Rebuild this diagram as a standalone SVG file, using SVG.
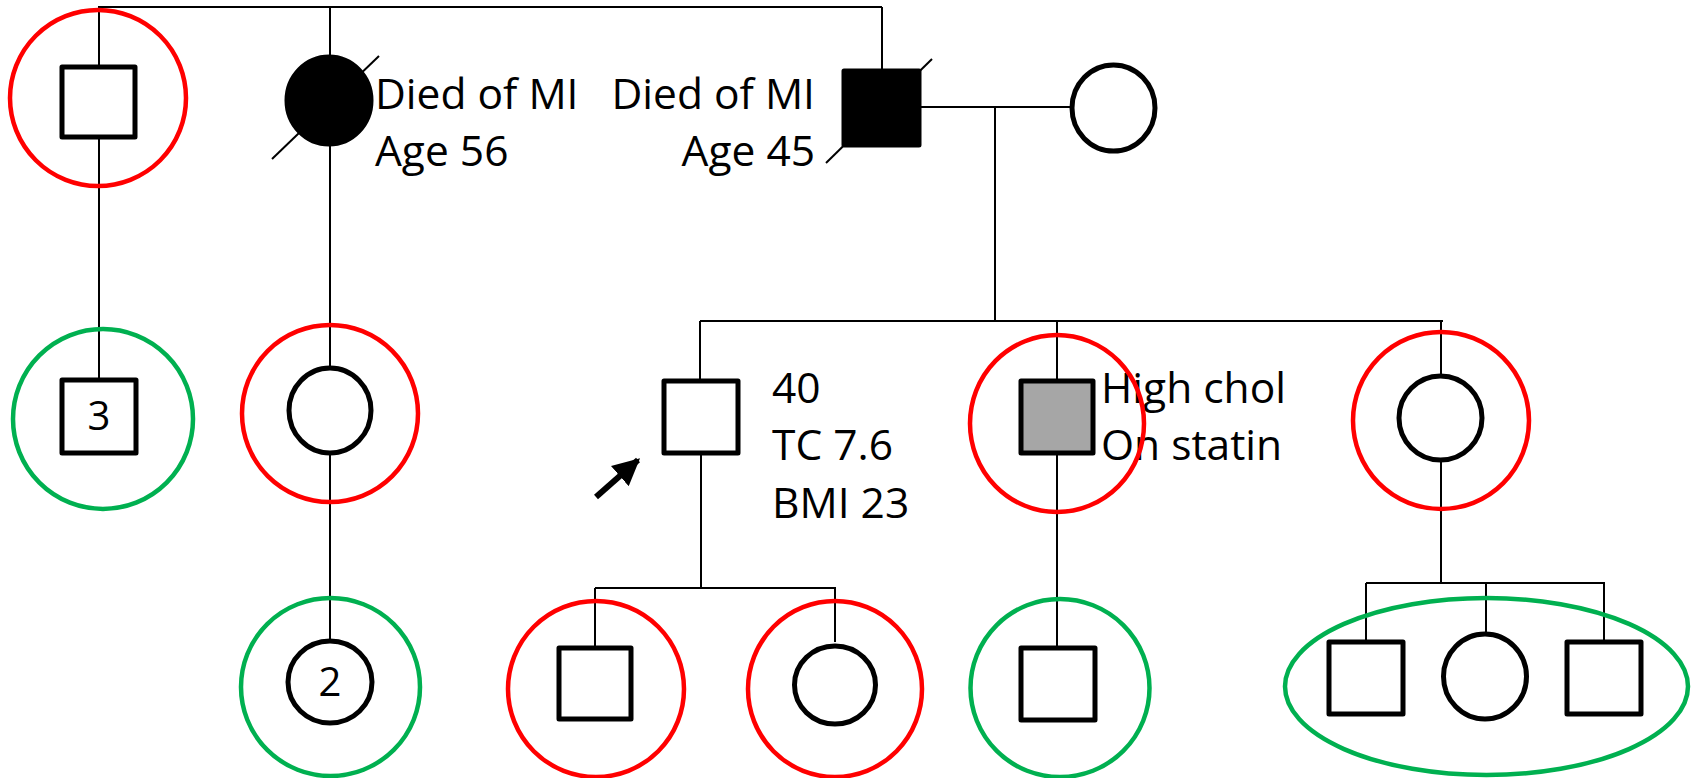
<svg xmlns="http://www.w3.org/2000/svg" width="1694" height="778" viewBox="0 0 1694 778">
  <style>
    .line { stroke: #000; stroke-width: 2; fill: none; }
    .person { stroke: #000; stroke-width: 5; fill: #fff; stroke-linejoin: round; }
    .affected { fill: #000; }
    .partial { fill: #a6a6a6; }
    .slash { stroke: #000; stroke-width: 2; }
    .risk { stroke: #ff0000; stroke-width: 4.5; fill: none; }
    .safe { stroke: #00b050; stroke-width: 4.5; fill: none; }
    .label { font-family: "Open Sans", "Noto Sans", sans-serif; font-size: 42.5px; fill: #000; }
    .num { font-family: "Open Sans", "Noto Sans", sans-serif; font-size: 40px; fill: #000; text-anchor: middle; }
  </style>
  <defs>
    <marker id="arrowhead" viewBox="0 0 10 10" refX="9" refY="5" markerWidth="4.5" markerHeight="4.5" orient="auto" markerUnits="strokeWidth">
      <path d="M0,0 L10,5 L0,10 z" fill="#000"/>
    </marker>
  </defs>

  <!-- lines of descent and partnership -->
  <g id="connectors">
    <path class="line" d="M98,7 H882"/>
    <path class="line" d="M99,7 V67 M99,138 V380"/>
    <path class="line" d="M330,7 V57 M330,144 V368 M330,453 V641"/>
    <path class="line" d="M882,7 V71"/>
    <path class="line" d="M919,107 H1072"/>
    <path class="line" d="M995,107 V321"/>
    <path class="line" d="M700,321 H1443"/>
    <path class="line" d="M700,321 V381 M1057,321 V381 M1441,321 V376"/>
    <path class="line" d="M701,453 V588"/>
    <path class="line" d="M595,588 H836"/>
    <path class="line" d="M595,588 V648 M835,588 V642"/>
    <path class="line" d="M1057,453 V648"/>
    <path class="line" d="M1441,460 V583"/>
    <path class="line" d="M1366,583 H1605"/>
    <path class="line" d="M1366,583 V642 M1486,583 V634 M1604,583 V642"/>
  </g>

  <!-- generation I -->
  <g id="uncle">
    <rect class="person" x="62" y="67" width="73" height="70"/>
  </g>
  <g id="aunt-deceased">
    <path class="slash" d="M272,159 L379,56"/>
    <ellipse class="person affected" cx="329" cy="100.5" rx="42" ry="43.5"/>
    <text class="label" x="375" y="109">Died of MI</text>
    <text class="label" x="375" y="166">Age 56</text>
  </g>
  <g id="father-deceased">
    <path class="slash" d="M826,163 L932,59"/>
    <rect class="person affected" x="844" y="71" width="75" height="74"/>
    <text class="label" x="815" y="109" text-anchor="end">Died of MI</text>
    <text class="label" x="815" y="166" text-anchor="end">Age 45</text>
  </g>
  <g id="mother">
    <ellipse class="person" cx="1113.5" cy="108" rx="41.5" ry="43"/>
  </g>

  <!-- generation II -->
  <g id="cousins-male">
    <rect class="person" x="62" y="380" width="74" height="73"/>
    <text class="num" x="99" y="430">3</text>
  </g>
  <g id="cousin-female">
    <ellipse class="person" cx="330" cy="410.5" rx="41" ry="42.5"/>
  </g>
  <g id="proband">
    <rect class="person" x="664" y="381" width="74" height="72"/>
    <path d="M596,497 L638,460" stroke="#000" stroke-width="6" marker-end="url(#arrowhead)"/>
    <text class="label" x="772" y="403">40</text>
    <text class="label" x="772" y="460">TC 7.6</text>
    <text class="label" x="772" y="518">BMI 23</text>
  </g>
  <g id="brother">
    <rect class="person partial" x="1021" y="381" width="72" height="72"/>
    <text class="label" x="1101" y="403">High chol</text>
    <text class="label" x="1101" y="460">On statin</text>
  </g>
  <g id="sister">
    <ellipse class="person" cx="1440.5" cy="418" rx="41.5" ry="42"/>
  </g>

  <!-- generation III -->
  <g id="second-cousins">
    <ellipse class="person" cx="330" cy="682" rx="42" ry="41"/>
    <text class="num" x="330" y="696">2</text>
  </g>
  <g id="son">
    <rect class="person" x="559" y="648" width="72" height="71"/>
  </g>
  <g id="daughter">
    <ellipse class="person" cx="835" cy="685" rx="40.5" ry="39"/>
  </g>
  <g id="nephew">
    <rect class="person" x="1021" y="648" width="74" height="72"/>
  </g>
  <g id="nephews-niece">
    <rect class="person" x="1329" y="642" width="74" height="72"/>
    <ellipse class="person" cx="1485" cy="676.5" rx="41.5" ry="42.5"/>
    <rect class="person" x="1567" y="642" width="74" height="72"/>
  </g>

  <!-- screening rings -->
  <g id="screening">
    <ellipse class="risk" cx="98" cy="98" rx="88" ry="88"/>
    <ellipse class="safe" cx="103" cy="419" rx="90" ry="90"/>
    <ellipse class="risk" cx="330" cy="413.5" rx="88" ry="88.5"/>
    <ellipse class="safe" cx="330.5" cy="687" rx="89.5" ry="89"/>
    <ellipse class="risk" cx="1057" cy="423.5" rx="87" ry="88.5"/>
    <ellipse class="risk" cx="1441" cy="420.5" rx="88" ry="88.5"/>
    <ellipse class="risk" cx="596" cy="689" rx="88" ry="88"/>
    <ellipse class="risk" cx="835" cy="689" rx="87" ry="88"/>
    <ellipse class="safe" cx="1060" cy="688" rx="89.5" ry="89"/>
    <ellipse class="safe" cx="1486.5" cy="686.5" rx="201.5" ry="88.5"/>
  </g>
</svg>
